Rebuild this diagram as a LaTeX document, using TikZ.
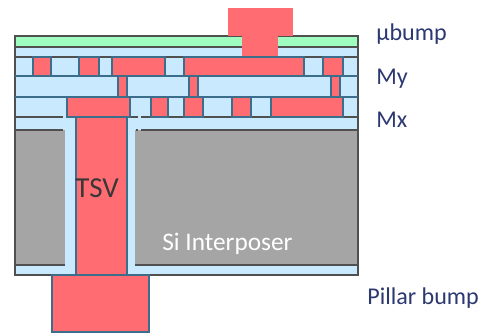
\documentclass[tikz,border=0pt]{standalone}
\usepackage{fontspec}
\setmainfont{Carlito}
\usepackage{xcolor}
\definecolor{metalpink}{HTML}{FF6C72}
\definecolor{oxideblue}{HTML}{C9E9FF}
\definecolor{bumpgreen}{HTML}{A0FDC0}
\definecolor{siliconGray}{HTML}{A5A5A5}
\definecolor{edgeblue}{HTML}{3C6E8C}
\definecolor{edgedark}{HTML}{505050}
\definecolor{labelblue}{HTML}{2C3870}
\tikzset{
  metalbox/.style={fill=metalpink, draw=edgeblue, line width=0.8pt},
  oxidebox/.style={draw=edgedark, line width=0.8pt},
  bluerule/.style={draw=edgeblue, line width=0.8pt},
  layerlabel/.style={anchor=west, inner sep=0pt, text=labelblue, font=\fontsize{13.7}{15}\selectfont},
}
\begin{document}
\begin{tikzpicture}[x=0.02cm, y=-0.02cm]
    \useasboundingbox (0,0) rectangle (479,332);
    % layers of the stack
    \fill [oxideblue] (15,47) rectangle (358,275);
    \fill [bumpgreen] (15,36) rectangle (358,47);
    \fill [siliconGray] (15,130) rectangle (65,265);
    \fill [siliconGray] (135,130) rectangle (358,265);
    \draw [oxidebox] (15,36) rectangle (358,275);
    \draw [oxidebox] (15,57) -- (358,57);
    \draw [oxidebox] (15,47) -- (358,47);
    \draw [bluerule] (15,76) -- (358,76);
    \draw [bluerule] (15,97) -- (358,97);
    % breaks next to the TSV
    \draw [oxidebox] (15,117) -- (63,117);
    \draw [oxidebox] (127,117) -- (138,117);
    \draw [oxidebox] (141,117) -- (358,117);
    \draw [oxidebox] (15,130) -- (63,130);
    \draw [oxidebox] (136,130) -- (138,130);
    \draw [oxidebox] (141,130) -- (358,130);
    \draw [oxidebox] (15,265) -- (65,265);
    \draw [oxidebox] (135,265) -- (358,265);
    % metal of the upper layer
    \foreach \xa/\xb in {33/51, 79/99, 112/165, 184/304, 323/343}
        \draw [metalbox] (\xa,57) rectangle (\xb,76);
    % vias
    \foreach \xa/\xb in {118/127, 189/198, 331/340}
        \draw [metalbox] (\xa,76) rectangle (\xb,97);
    % metal of the lower layer
    \foreach \xa/\xb in {67/130, 151/168, 184/203, 232/251, 271/343}
        \draw [metalbox] (\xa,97) rectangle (\xb,117);
    % TSV and both bumps
    \draw [metalbox] (76,117) rectangle (127,275);
    \draw [metalbox] (52,275) rectangle (149,332);
    \fill [metalpink] (228,8) rectangle (293,36);
    \fill [metalpink] (242,36) rectangle (278,56);
    \node [layerlabel] (ubump) at (376,34) {μbump};
    \node [layerlabel] (my) at (376,79) {My};
    \node [layerlabel] (mx) at (376,120) {Mx};
    \node [layerlabel] (pillar) at (367,298) {Pillar bump};
    \node [layerlabel, text=edgedark!70!black, font=\fontsize{16.5}{18}\selectfont] (tsv) at (75,188) {TSV};
    \node [layerlabel, text=white, font=\fontsize{14.4}{16}\selectfont] (si) at (162,244) {Si Interposer};
\end{tikzpicture}
\end{document}
